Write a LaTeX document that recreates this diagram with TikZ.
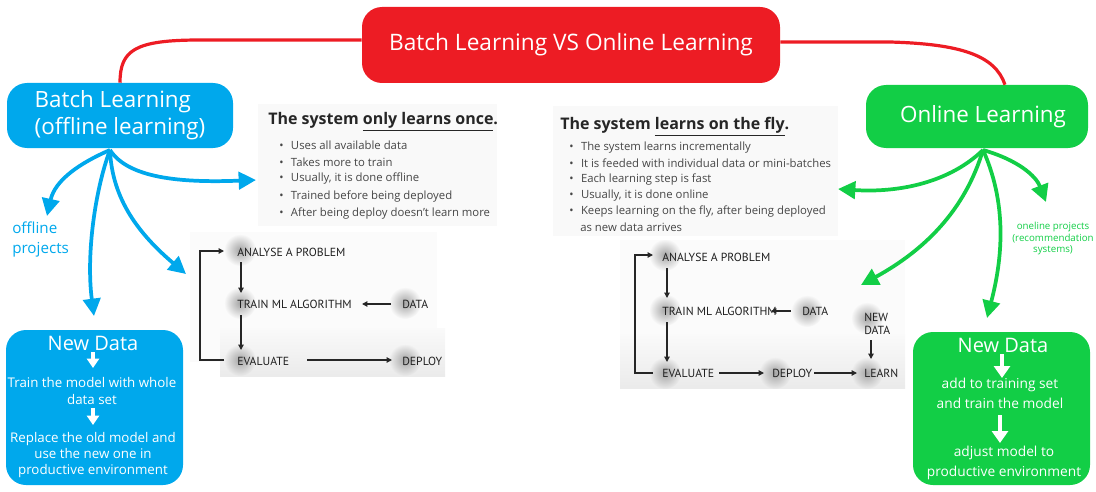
\documentclass[tikz,border=0pt]{standalone}
\usepackage{fontspec}
\setmainfont{Open Sans}
\newfontfamily\flowfont{PT Sans}
\usetikzlibrary{arrows.meta,fadings}
\definecolor{redc}{RGB}{237,28,36}
\definecolor{bluec}{RGB}{0,168,236}
\definecolor{greenc}{RGB}{18,206,70}
\definecolor{txtc}{RGB}{70,70,70}
\tikzfading[name=softdisc, inner color=transparent!0, outer color=transparent!100]
\newcommand{\fsz}[1]{\fontsize{#1}{1.2\dimexpr#1\relax}\selectfont}
\newcommand{\bul}{\makebox[8.8pt][l]{\textbullet}}
\tikzset{
  boxbase/.style={rounded corners=15pt, inner sep=0pt, text=white, align=center},
  redbox/.style={boxbase, fill=redc},
  bluebox/.style={boxbase, fill=bluec},
  greenbox/.style={boxbase, fill=greenc},
  redline/.style={draw=redc, line width=2.4pt},
  bluearrow/.style={draw=bluec, line width=2.8pt, -{Triangle[length=13pt,width=13pt]}},
  greenarrow/.style={draw=greenc, line width=2.8pt, -{Triangle[length=13pt,width=13pt]}},
  whitearrow/.style={draw=white, line width=2.6pt, -{Triangle[length=7pt,width=9pt]}},
  paneltitle/.style={anchor=west, inner sep=0pt, text=black!85, font=\bfseries\fsz{12pt}},
  panelline/.style={anchor=west, inner sep=0pt, text=txtc, font=\fsz{8.5pt}},
  flowlbl/.style={anchor=west, inner sep=0pt, text=black!88, font=\flowfont\fsz{8.8pt}},
  flowarrow/.style={draw=black!85, line width=0.9pt, -{Triangle[length=4pt,width=4pt]}},
  blob/.style={fill=black!35, path fading=softdisc},
}
\begin{document}
\begin{tikzpicture}[x=0.75pt,y=-0.75pt]
\useasboundingbox (0,0) rectangle (1096,492);

% ---------- screenshot panels ----------
\fill[gray!5] (258,104) rectangle (497,226);
\fill[gray!5] (553,106) rectangle (838,236);
% left flow panel
\fill[gray!3] (190,232) rectangle (437,362);
\shade[top color=gray!4, bottom color=gray!16] (220,328) rectangle (445,376);
% right flow panel
\fill[gray!3] (620,240) rectangle (905,340);
\shade[top color=gray!4, bottom color=gray!16] (620,334) rectangle (905,388);

% ---------- main boxes ----------
\node[redbox, minimum width=313.5pt, minimum height=57pt, font=\fsz{17pt}] (title) at (571,45) {Batch Learning VS Online Learning};
\node[bluebox, minimum width=169.5pt, minimum height=48.75pt, align=left, font=\fsz{16.8pt}] (batch) at (120,115.5) {Batch Learning\\(offline learning)};
\node[greenbox, minimum width=166.5pt, minimum height=47.25pt, font=\fsz{16.8pt}] (online) at (977,116.5) {\hspace{9pt}Online Learning};

% red connectors
\draw[redline] (batch.north) .. controls (120,50) and (135,40) .. (200,40) -- (title.west |- 0,40);
\draw[redline] (title.east |- 0,42) -- (890,42) .. controls (960,44) and (995,55) .. ([xshift=21pt]online.north);

% ---------- New Data boxes ----------
\node[bluebox, minimum width=132.75pt, minimum height=116.25pt] (bnd) at (94.5,407.5) {};
\node[greenbox, minimum width=132.75pt, minimum height=114.75pt] (gnd) at (1001.5,408.5) {};

\node[text=white, font=\fsz{15pt}, inner sep=0pt] (bnd1) at (93,343) {New Data};
\node[text=white, font=\fsz{10pt}, align=center, inner sep=0pt] (bnd2) at (92,391) {Train the model with whole\\[0.5pt]data set};
\node[text=white, font=\fsz{10pt}, align=center, inner sep=0pt] (bnd3) at (93,455) {Replace the old model and\\use the new one in\\productive environment};
\draw[whitearrow] (93,352) -- (93,368);
\draw[whitearrow] (93,408) -- (93,425);

\node[text=white, font=\fsz{15pt}, inner sep=0pt] (gnd1) at (1003,345) {New Data};
\node[text=white, font=\fsz{10.3pt}, align=center, inner sep=0pt] (gnd2) at (1000,393.5) {add to training set\\[2.5pt]and train the model};
\node[text=white, font=\fsz{10.3pt}, align=center, inner sep=0pt] (gnd3) at (1004,463) {adjust model to\\[2pt]productive environment};
\draw[white, line width=3.2pt, -{Triangle[length=9pt,width=12pt]}] (1002,354) -- (1002,378);
\draw[white, line width=3.2pt, -{Triangle[length=9pt,width=12pt]}] (1000,415) -- (1000,443);

% ---------- side labels ----------
\node[text=bluec, font=\fsz{11.4pt}, align=left, anchor=north west, inner sep=0pt] (offl) at (12,222) {offline\\[1pt]projects};
\node[text=greenc, font=\fsz{7.3pt}, align=center, inner sep=0pt] (onl) at (1053,238.5) {oneline projects\\(recommendation\\systems)};

% ---------- left text panel ----------
\node[paneltitle] (lt) at (268,122) {The system \underline{only learns once}.};
\node[panelline] (l1) at (279,145) {\bul Uses all available data};
\node[panelline] (l2) at (279,162) {\bul Takes more to train};
\node[panelline] (l3) at (279,179) {\bul Usually, it is done offline};
\node[panelline] (l4) at (279,197) {\bul Trained before being deployed};
\node[panelline] (l5) at (279,214) {\bul After being deploy doesn't learn more};

% ---------- right text panel ----------
\node[paneltitle] (rt) at (560,127) {The system \underline{learns on the fly}.};
\node[panelline] (r1) at (569,148) {\bul The system learns incrementally};
\node[panelline] (r2) at (569,163) {\bul It is feeded with individual data or mini-batches};
\node[panelline] (r3) at (569,180) {\bul Each learning step is fast};
\node[panelline] (r4) at (569,196) {\bul Usually, it is done online};
\node[panelline] (r5) at (569,212) {\bul Keeps learning on the fly, after being deployed};
\node[panelline] (r6) at (580,227) {as new data arrives};

% ---------- left flow ----------
\foreach \p in {(240,250),(240,303),(405,303),(240,360),(405,360)} \fill[blob] \p circle (16);
\node[flowlbl] (la) at (237,252) {ANALYSE A PROBLEM};
\node[flowlbl] (lt2) at (237,304) {TRAIN ML ALGORITHM};
\node[flowlbl] (ld) at (402,304) {DATA};
\node[flowlbl] (le) at (237,361) {EVALUATE};
\node[flowlbl] (lp) at (402,361) {DEPLOY};
\draw[flowarrow] (241,262) -- (241,293);
\draw[flowarrow] (241,315) -- (241,350);
\draw[flowarrow] (391,304) -- (362,304);
\draw[flowarrow] (307,360) -- (392,360);
\draw[flowarrow] (224,360) -- (200,360) -- (200,251) -- (224,251);

% ---------- right flow ----------
\foreach \p in {(665,255),(665,310),(807,311),(867,318),(665,373),(775,373),(867,373)} \fill[blob] \p circle (16);
\node[flowlbl] (ra) at (662,257) {ANALYSE A PROBLEM};
\node[flowlbl] (rt2) at (662,311) {TRAIN ML ALGORITHM};
\node[flowlbl] (rd) at (802,311) {DATA};
\node[flowlbl, align=left] (rn) at (864,324) {NEW\\[-1pt]DATA};
\node[flowlbl] (re) at (662,373) {EVALUATE};
\node[flowlbl] (rp) at (772,373) {DEPLOY};
\node[flowlbl] (rl) at (864,373) {LEARN};
\draw[flowarrow] (667,268) -- (667,298);
\draw[flowarrow] (667,322) -- (667,362);
\draw[flowarrow] (791,311) -- (771,311);
\draw[flowarrow] (871,340) -- (871,359);
\draw[flowarrow] (719,373) -- (764,373);
\draw[flowarrow] (814,373) -- (857,373);
\draw[flowarrow] (653,373) -- (635,373) -- (635,255) -- (653,255);

% ---------- blue arrows ----------
\coordinate (bo) at (110,150);
\coordinate (bt1) at (47,216);
\coordinate (bt2) at (94,316);
\coordinate (bt3) at (186,274);
\coordinate (bt4) at (256,180);
\draw[bluearrow] (bo) .. controls (80,163) and (55,180) .. (bt1);
\draw[bluearrow] (bo) .. controls (95,190) and (86,255) .. (bt2);
\draw[bluearrow] (bo) .. controls (112,200) and (140,235) .. (bt3);
\draw[bluearrow] (bo) .. controls (128,178) and (180,183) .. (bt4);

% ---------- green arrows ----------
\coordinate (go) at (983,150);
\coordinate (gt1) at (838,189);
\coordinate (gt2) at (861,285);
\coordinate (gt3) at (987,318);
\coordinate (gt4) at (1046,202);
\draw[greenarrow] (go) .. controls (950,182) and (900,193) .. (gt1);
\draw[greenarrow] (go) .. controls (965,210) and (925,250) .. (gt2);
\draw[greenarrow] (go) .. controls (1010,210) and (1000,268) .. (gt3);
\draw[greenarrow] (go) .. controls (1018,160) and (1036,176) .. (gt4);
\end{tikzpicture}
\end{document}
